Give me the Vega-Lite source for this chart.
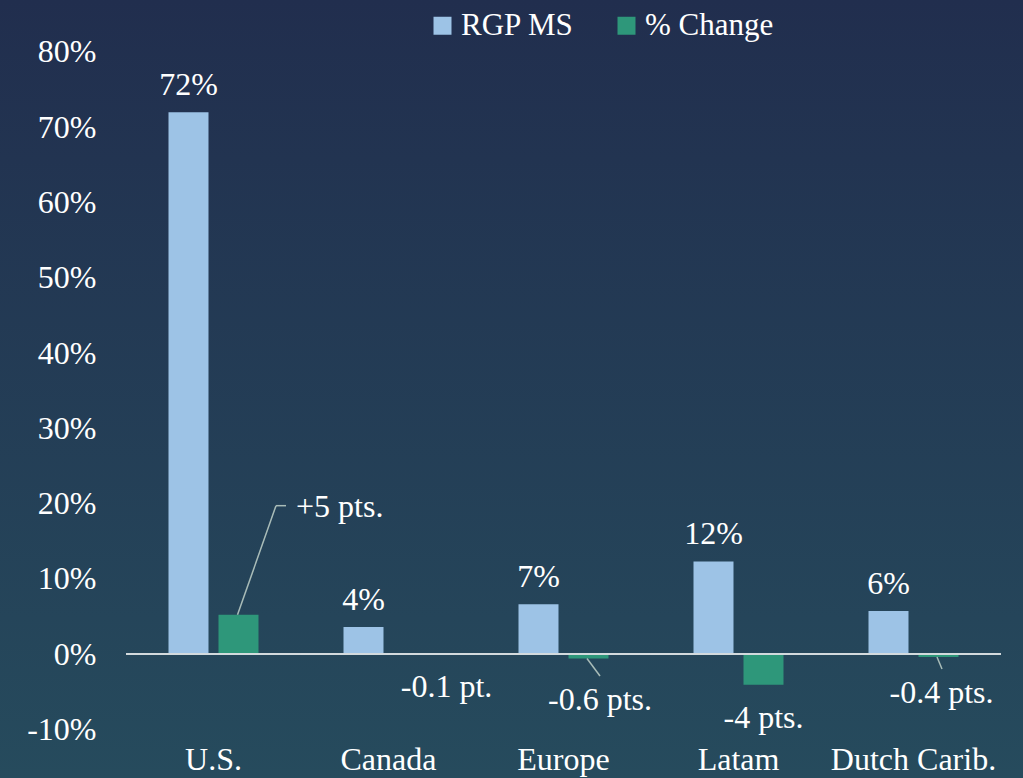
{
  "$schema": "https://vega.github.io/schema/vega-lite/v6.json",
  "width": 1023,
  "height": 778,
  "autosize": {"type": "none"},
  "padding": 0,
  "background": "#22304f",
  "config": {
    "view": {
      "stroke": null,
      "fill": {
        "gradient": "linear",
        "x1": 0, "y1": 0, "x2": 0, "y2": 1,
        "stops": [
          {"offset": 0, "color": "#212e4e"},
          {"offset": 1, "color": "#264b5d"}
        ]
      }
    },
    "font": "Liberation Serif",
    "text": {"font": "Liberation Serif", "fontSize": 32, "fill": "#ffffff", "baseline": "alphabetic"}
  },
  "data": {
    "values": [
      {"region": "U.S.", "series": "RGP MS", "value": 0.72, "label": "72%"},
      {"region": "U.S.", "series": "% Change", "value": 0.052, "label": "+5 pts."},
      {"region": "Canada", "series": "RGP MS", "value": 0.036, "label": "4%"},
      {"region": "Canada", "series": "% Change", "value": -0.001, "label": "-0.1 pt."},
      {"region": "Europe", "series": "RGP MS", "value": 0.066, "label": "7%"},
      {"region": "Europe", "series": "% Change", "value": -0.006, "label": "-0.6 pts."},
      {"region": "Latam", "series": "RGP MS", "value": 0.123, "label": "12%"},
      {"region": "Latam", "series": "% Change", "value": -0.041, "label": "-4 pts."},
      {"region": "Dutch Carib.", "series": "RGP MS", "value": 0.057, "label": "6%"},
      {"region": "Dutch Carib.", "series": "% Change", "value": -0.004, "label": "-0.4 pts."}
    ]
  },
  "encoding": {
    "x": {
      "field": "region",
      "type": "nominal",
      "sort": null,
      "scale": {
        "domain": ["U.S.", "Canada", "Europe", "Latam", "Dutch Carib."],
        "paddingInner": 0,
        "paddingOuter": 0.422857,
        "align": 0.851351
      },
      "axis": {
        "title": null,
        "domain": false,
        "ticks": false,
        "tickSize": 0,
        "grid": false,
        "labelPadding": -9,
        "labelBaseline": "alphabetic",
        "labelAlign": "center",
        "labelAngle": 0,
        "labelFont": "Liberation Serif",
        "labelFontSize": 32,
        "labelColor": "#ffffff",
        "labelOverlap": false,
        "labelBound": false,
        "labelFlush": false
      }
    }
  },
  "layer": [
    {
      "mark": {"type": "bar"},
      "encoding": {
        "xOffset": {
          "field": "series",
          "type": "nominal",
          "scale": {"domain": ["RGP MS", "% Change"], "paddingInner": 0.2, "paddingOuter": 0.85}
        },
        "y": {
          "field": "value",
          "type": "quantitative",
          "scale": {"domain": [-0.16478, 0.8691], "nice": false},
          "axis": {
            "values": [-0.1, 0, 0.1, 0.2, 0.3, 0.4, 0.5, 0.6, 0.7, 0.8],
            "format": ".0%",
            "labelExpr": "replace(datum.label, '−', '-')",
            "title": null,
            "domain": false,
            "ticks": false,
            "tickSize": 0,
            "grid": false,
            "labelPadding": -96,
            "labelAlign": "right",
            "labelBaseline": "middle",
            "labelFont": "Liberation Serif",
            "labelFontSize": 32,
            "labelColor": "#ffffff",
            "labelOverlap": false,
            "labelBound": false,
            "labelFlush": false
          }
        },
        "y2": {"datum": 0},
        "color": {
          "field": "series",
          "type": "nominal",
          "scale": {"domain": ["RGP MS", "% Change"], "range": ["#9dc3e6", "#2e977a"]},
          "legend": {
            "title": null,
            "orient": "none",
            "legendX": 427,
            "legendY": 10,
            "direction": "horizontal",
            "symbolType": "square",
            "symbolSize": 324,
            "symbolStrokeWidth": 0,
            "labelFont": "Liberation Serif",
            "labelFontSize": 31,
            "labelColor": "#ffffff",
            "labelOffset": 3,
            "columnPadding": 37,
            "padding": 0
          }
        }
      }
    },
    {
      "transform": [{"filter": "datum.series === 'RGP MS'"}],
      "mark": {"type": "rect", "fill": "#d3dadd"},
      "encoding": {
        "y": {"datum": 0.00133},
        "y2": {"datum": -0.00133}
      }
    },
    {
      "transform": [{"filter": "datum.region === 'U.S.' && datum.series === '% Change'"}],
      "mark": {"type": "rule", "stroke": "#a9bcb8", "strokeWidth": 1.5, "xOffset": 24, "x2Offset": 62.5},
      "encoding": {
        "x2": {"field": "region"},
        "y": {"field": "value", "type": "quantitative"},
        "y2": {"datum": 0.1971}
      }
    },
    {
      "transform": [{"filter": "datum.region === 'U.S.' && datum.series === '% Change'"}],
      "mark": {"type": "rule", "stroke": "#a9bcb8", "strokeWidth": 1.5, "xOffset": 62.5, "x2Offset": 72.5},
      "encoding": {
        "x2": {"field": "region"},
        "y": {"datum": 0.1971}
      }
    },
    {
      "transform": [{"filter": "datum.region === 'Europe' && datum.series === '% Change'"}],
      "mark": {"type": "rule", "stroke": "#a9bcb8", "strokeWidth": 1.5, "xOffset": 23.5, "x2Offset": 36.5},
      "encoding": {
        "x2": {"field": "region"},
        "y": {"field": "value", "type": "quantitative"},
        "y2": {"datum": -0.0292}
      }
    },
    {
      "transform": [{"filter": "datum.region === 'Dutch Carib.' && datum.series === '% Change'"}],
      "mark": {"type": "rule", "stroke": "#a9bcb8", "strokeWidth": 1.5, "xOffset": 23.5, "x2Offset": 28.5},
      "encoding": {
        "x2": {"field": "region"},
        "y": {"field": "value", "type": "quantitative"},
        "y2": {"datum": -0.0199}
      }
    },
    {
      "transform": [{"filter": "datum.series === 'RGP MS'"}],
      "mark": {"type": "text", "dy": -17, "align": "center"},
      "encoding": {
        "xOffset": {"field": "series", "type": "nominal"},
        "y": {"field": "value", "type": "quantitative"},
        "text": {"field": "label"}
      }
    },
    {
      "transform": [{"filter": "datum.region === 'U.S.' && datum.series === '% Change'"}],
      "mark": {"type": "text", "align": "left", "dx": 82.5, "dy": -98},
      "encoding": {"y": {"field": "value", "type": "quantitative"}, "text": {"field": "label"}}
    },
    {
      "transform": [{"filter": "datum.region === 'Canada' && datum.series === '% Change'"}],
      "mark": {"type": "text", "align": "center", "dx": 58, "dy": 42},
      "encoding": {"y": {"field": "value", "type": "quantitative"}, "text": {"field": "label"}}
    },
    {
      "transform": [{"filter": "datum.region === 'Europe' && datum.series === '% Change'"}],
      "mark": {"type": "text", "align": "center", "dx": 36.5, "dy": 51.5},
      "encoding": {"y": {"field": "value", "type": "quantitative"}, "text": {"field": "label"}}
    },
    {
      "transform": [{"filter": "datum.region === 'Latam' && datum.series === '% Change'"}],
      "mark": {"type": "text", "align": "center", "dx": 25, "dy": 43},
      "encoding": {"y": {"field": "value", "type": "quantitative"}, "text": {"field": "label"}}
    },
    {
      "transform": [{"filter": "datum.region === 'Dutch Carib.' && datum.series === '% Change'"}],
      "mark": {"type": "text", "align": "center", "dx": 28, "dy": 46.3},
      "encoding": {"y": {"field": "value", "type": "quantitative"}, "text": {"field": "label"}}
    }
  ]
}
